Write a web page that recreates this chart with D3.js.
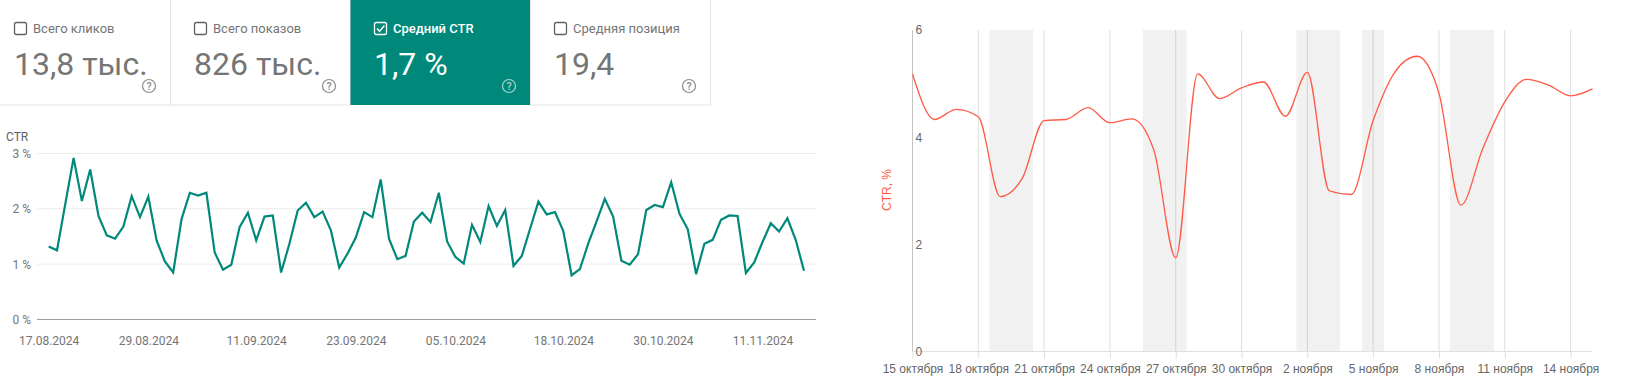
<!DOCTYPE html>
<html>
<head>
<meta charset="utf-8">
<script src="https://cdnjs.cloudflare.com/ajax/libs/d3/7.8.5/d3.min.js"></script>
<style>
  body { margin: 0; background: #fff; }
  svg { display: block; }
  .axis-clean .domain { display: none; }
</style>
</head>
<body>
<svg id="chart" width="1631" height="387"></svg>
<script>
// Metric tiles
const tileLabels = ["Всего кликов", "Всего показов", "Средний CTR", "Средняя позиция"];
const tileValues = ["13,8 тыс.", "826 тыс.", "1,7 %", "19,4"];
const activeTile = 2;

// Left chart: daily CTR, 17.08.2024 - 16.11.2024
const dailyCtr = [
  1.32, 1.25, 2.09, 2.92, 2.14, 2.71, 1.87, 1.52, 1.46, 1.68,
  2.23, 1.85, 2.22, 1.43, 1.05, 0.85, 1.81, 2.29, 2.24, 2.29,
  1.21, 0.90, 0.99, 1.67, 1.93, 1.43, 1.86, 1.88, 0.85, 1.37,
  1.97, 2.11, 1.85, 1.95, 1.61, 0.94, 1.19, 1.48, 1.94, 1.85,
  2.53, 1.46, 1.09, 1.15, 1.77, 1.93, 1.76, 2.29, 1.41, 1.13,
  1.01, 1.71, 1.40, 2.05, 1.69, 1.98, 0.97, 1.15, 1.64, 2.13,
  1.90, 1.94, 1.60, 0.80, 0.91, 1.37, 1.77, 2.18, 1.86, 1.06,
  0.99, 1.18, 1.98, 2.07, 2.03, 2.48, 1.91, 1.63, 0.82, 1.37,
  1.44, 1.80, 1.88, 1.87, 0.84, 1.03, 1.40, 1.74, 1.59, 1.83,
  1.44, 0.88
];
const dailyTickIndex = [0, 12, 25, 37, 49, 62, 74, 86];
const dailyTickLabels = ["17.08.2024", "29.08.2024", "11.09.2024", "23.09.2024",
  "05.10.2024", "18.10.2024", "30.10.2024", "11.11.2024"];
const pctTicks = [0, 1, 2, 3];

// Right chart: CTR from 15 October to 15 November
const autumnCtr = [
  5.18, 4.33, 4.52, 4.38, 2.89, 3.23, 4.31, 4.33, 4.55, 4.27,
  4.34, 3.76, 1.75, 5.18, 4.72, 4.92, 5.03, 4.39, 5.21, 3.00,
  2.93, 4.31, 5.22, 5.51, 4.82, 2.73, 3.79, 4.66, 5.08, 4.97,
  4.77, 4.90
];
const autumnTickIndex = [0, 3, 6, 9, 12, 15, 18, 21, 24, 27, 30];
const autumnTickLabels = ["15 октября", "18 октября", "21 октября", "24 октября", "27 октября",
  "30 октября", "2 ноября", "5 ноября", "8 ноября", "11 ноября", "14 ноября"];
const autumnYTicks = [0, 2, 4, 6];
// Shaded periods, in days from 15 October
const bandStarts = [3.5, 10.5, 17.5, 20.5, 24.5];
const bandEnds = [5.5, 12.5, 19.5, 21.5, 26.5];

const svg = d3.select("#chart");
const roboto = "Roboto, sans-serif";
const arial = "'Liberation Sans', Arial, sans-serif";

drawTiles();
drawDailyChart();
drawAutumnChart();

function drawTiles() {
    const tileWidth = 180, tileHeight = 105;
    const tiles = svg.append("g").selectAll("g")
        .data(tileLabels)
        .join("g")
        .attr("transform", (d, i) => `translate(${-10 + i * tileWidth}, 0)`);

    tiles.append("rect")
        .attr("x", 0.5)
        .attr("y", -2)
        .attr("width", tileWidth)
        .attr("height", tileHeight + 2)
        .attr("fill", (d, i) => i === activeTile ? "#00897b" : "#fff")
        .attr("stroke", (d, i) => i === activeTile ? "none" : "#e3e3e3");

    // Checkbox
    tiles.append("rect")
        .attr("x", 24.5)
        .attr("y", 22.5)
        .attr("width", 12)
        .attr("height", 12)
        .attr("rx", 2)
        .attr("fill", "none")
        .attr("stroke", (d, i) => i === activeTile ? "#fff" : "#616161")
        .attr("stroke-width", 1.3);

    tiles.filter((d, i) => i === activeTile).append("path")
        .attr("d", "M27 28.5 L29.6 31.3 L34.4 25.6")
        .attr("fill", "none")
        .attr("stroke", "#fff")
        .attr("stroke-width", 1.5);

    tiles.append("text")
        .attr("x", 43)
        .attr("y", 32.5)
        .attr("font-family", roboto)
        .attr("font-size", 13)
        .attr("font-weight", (d, i) => i === activeTile ? 500 : 400)
        .attr("fill", (d, i) => i === activeTile ? "#fff" : "#757575")
        .text(d => d);

    tiles.append("text")
        .attr("x", 24)
        .attr("y", 75)
        .attr("font-family", roboto)
        .attr("font-size", 32)
        .attr("fill", (d, i) => i === activeTile ? "#fff" : "#757575")
        .text((d, i) => tileValues[i]);

    // Help icon
    tiles.append("circle")
        .attr("cx", 159)
        .attr("cy", 86)
        .attr("r", 6.5)
        .attr("fill", "none")
        .attr("stroke", (d, i) => i === activeTile ? "#a5d6cf" : "#8a8a8a")
        .attr("stroke-width", 1.2);

    tiles.append("text")
        .attr("x", 159)
        .attr("y", 90)
        .attr("text-anchor", "middle")
        .attr("font-family", roboto)
        .attr("font-size", 10.5)
        .attr("font-weight", 500)
        .attr("fill", (d, i) => i === activeTile ? "#a5d6cf" : "#8a8a8a")
        .text("?");
}

function drawDailyChart() {
    const x = d3.scaleLinear().domain([0, dailyCtr.length - 1]).range([48.7, 804]);
    const y = d3.scaleLinear().domain([0, 3]).range([319.5, 153.5]);
    const left = 37, right = 816;

    // Grid lines
    svg.append("g").selectAll("line")
        .data(pctTicks)
        .join("line")
        .attr("x1", left)
        .attr("x2", right)
        .attr("y1", d => y(d))
        .attr("y2", d => y(d))
        .attr("stroke", d => d === 0 ? "#9e9e9e" : "#ebebeb")
        .attr("stroke-width", 1);

    const yAxis = svg.append("g")
        .attr("class", "axis-clean")
        .attr("transform", "translate(31, 0)")
        .call(d3.axisLeft(y).tickValues(pctTicks).tickSize(0).tickPadding(0).tickFormat(d => d + " %"));
    yAxis.selectAll("text")
        .attr("font-family", roboto)
        .attr("font-size", 12)
        .attr("fill", "#757575");

    const xAxis = svg.append("g")
        .attr("class", "axis-clean")
        .attr("transform", "translate(0, 336)")
        .call(d3.axisBottom(x).tickValues(dailyTickIndex).tickSize(0).tickPadding(0)
            .tickFormat(d => dailyTickLabels[dailyTickIndex.indexOf(d)]));
    xAxis.selectAll("text")
        .attr("font-family", roboto)
        .attr("font-size", 12)
        .attr("fill", "#757575");

    svg.append("text")
        .attr("x", 6)
        .attr("y", 141)
        .attr("font-family", roboto)
        .attr("font-size", 12)
        .attr("fill", "#616161")
        .text("CTR");

    const line = d3.line()
        .x((d, i) => x(i))
        .y(d => y(d));

    svg.append("path")
        .attr("fill", "none")
        .attr("stroke", "#00897b")
        .attr("stroke-width", 2.2)
        .attr("stroke-linejoin", "miter")
        .attr("d", line(dailyCtr));
}

function drawAutumnChart() {
    const x = d3.scaleLinear().domain([0, autumnCtr.length - 1]).range([912.5, 1592.5]);
    const y = d3.scaleLinear().domain([0, 6]).range([351.5, 30]);

    // Shaded periods
    svg.append("g").selectAll("rect")
        .data(bandStarts)
        .join("rect")
        .attr("x", d => x(d))
        .attr("y", y(6))
        .attr("width", (d, i) => x(bandEnds[i]) - x(d))
        .attr("height", y(0) - y(6))
        .attr("fill", "#f1f1f1");

    // Vertical grid with ticks below the plot
    const xAxis = svg.append("g")
        .attr("class", "axis-clean")
        .attr("transform", `translate(0, ${y(0)})`)
        .call(d3.axisBottom(x).tickValues(autumnTickIndex).tickSizeOuter(0).tickSizeInner(7).tickPadding(6)
            .tickFormat(d => autumnTickLabels[autumnTickIndex.indexOf(d)]));
    xAxis.selectAll("text")
        .attr("font-family", arial)
        .attr("font-size", 12)
        .attr("fill", "#666");
    xAxis.selectAll("line").attr("stroke", "rgba(0,0,0,0.13)");

    svg.append("g").selectAll("line")
        .data(autumnTickIndex)
        .join("line")
        .attr("x1", d => x(d))
        .attr("x2", d => x(d))
        .attr("y1", y(6))
        .attr("y2", y(0))
        .attr("stroke", d => d === 0 ? "#c4c4c4" : "rgba(0,0,0,0.13)");

    svg.append("line")
        .attr("x1", x(0))
        .attr("x2", x(31))
        .attr("y1", y(0))
        .attr("y2", y(0))
        .attr("stroke", "#e0e0e0");

    const yAxis = svg.append("g")
        .attr("class", "axis-clean")
        .attr("transform", `translate(${x(0)}, 0)`)
        .call(d3.axisRight(y).tickValues(autumnYTicks).tickSize(0).tickPadding(3).tickFormat(d3.format("d")));
    yAxis.selectAll("text")
        .attr("font-family", arial)
        .attr("font-size", 12)
        .attr("fill", "#666");

    svg.append("text")
        .attr("transform", "translate(891, 190) rotate(-90)")
        .attr("text-anchor", "middle")
        .attr("font-family", arial)
        .attr("font-size", 12)
        .attr("fill", "#ff5a45")
        .text("CTR, %");

    const line = d3.line()
        .x((d, i) => x(i))
        .y(d => y(d))
        .curve(d3.curveMonotoneX);

    svg.append("path")
        .attr("fill", "none")
        .attr("stroke", "#ff5a45")
        .attr("stroke-width", 1.3)
        .attr("d", line(autumnCtr));
}
</script>
</body>
</html>
